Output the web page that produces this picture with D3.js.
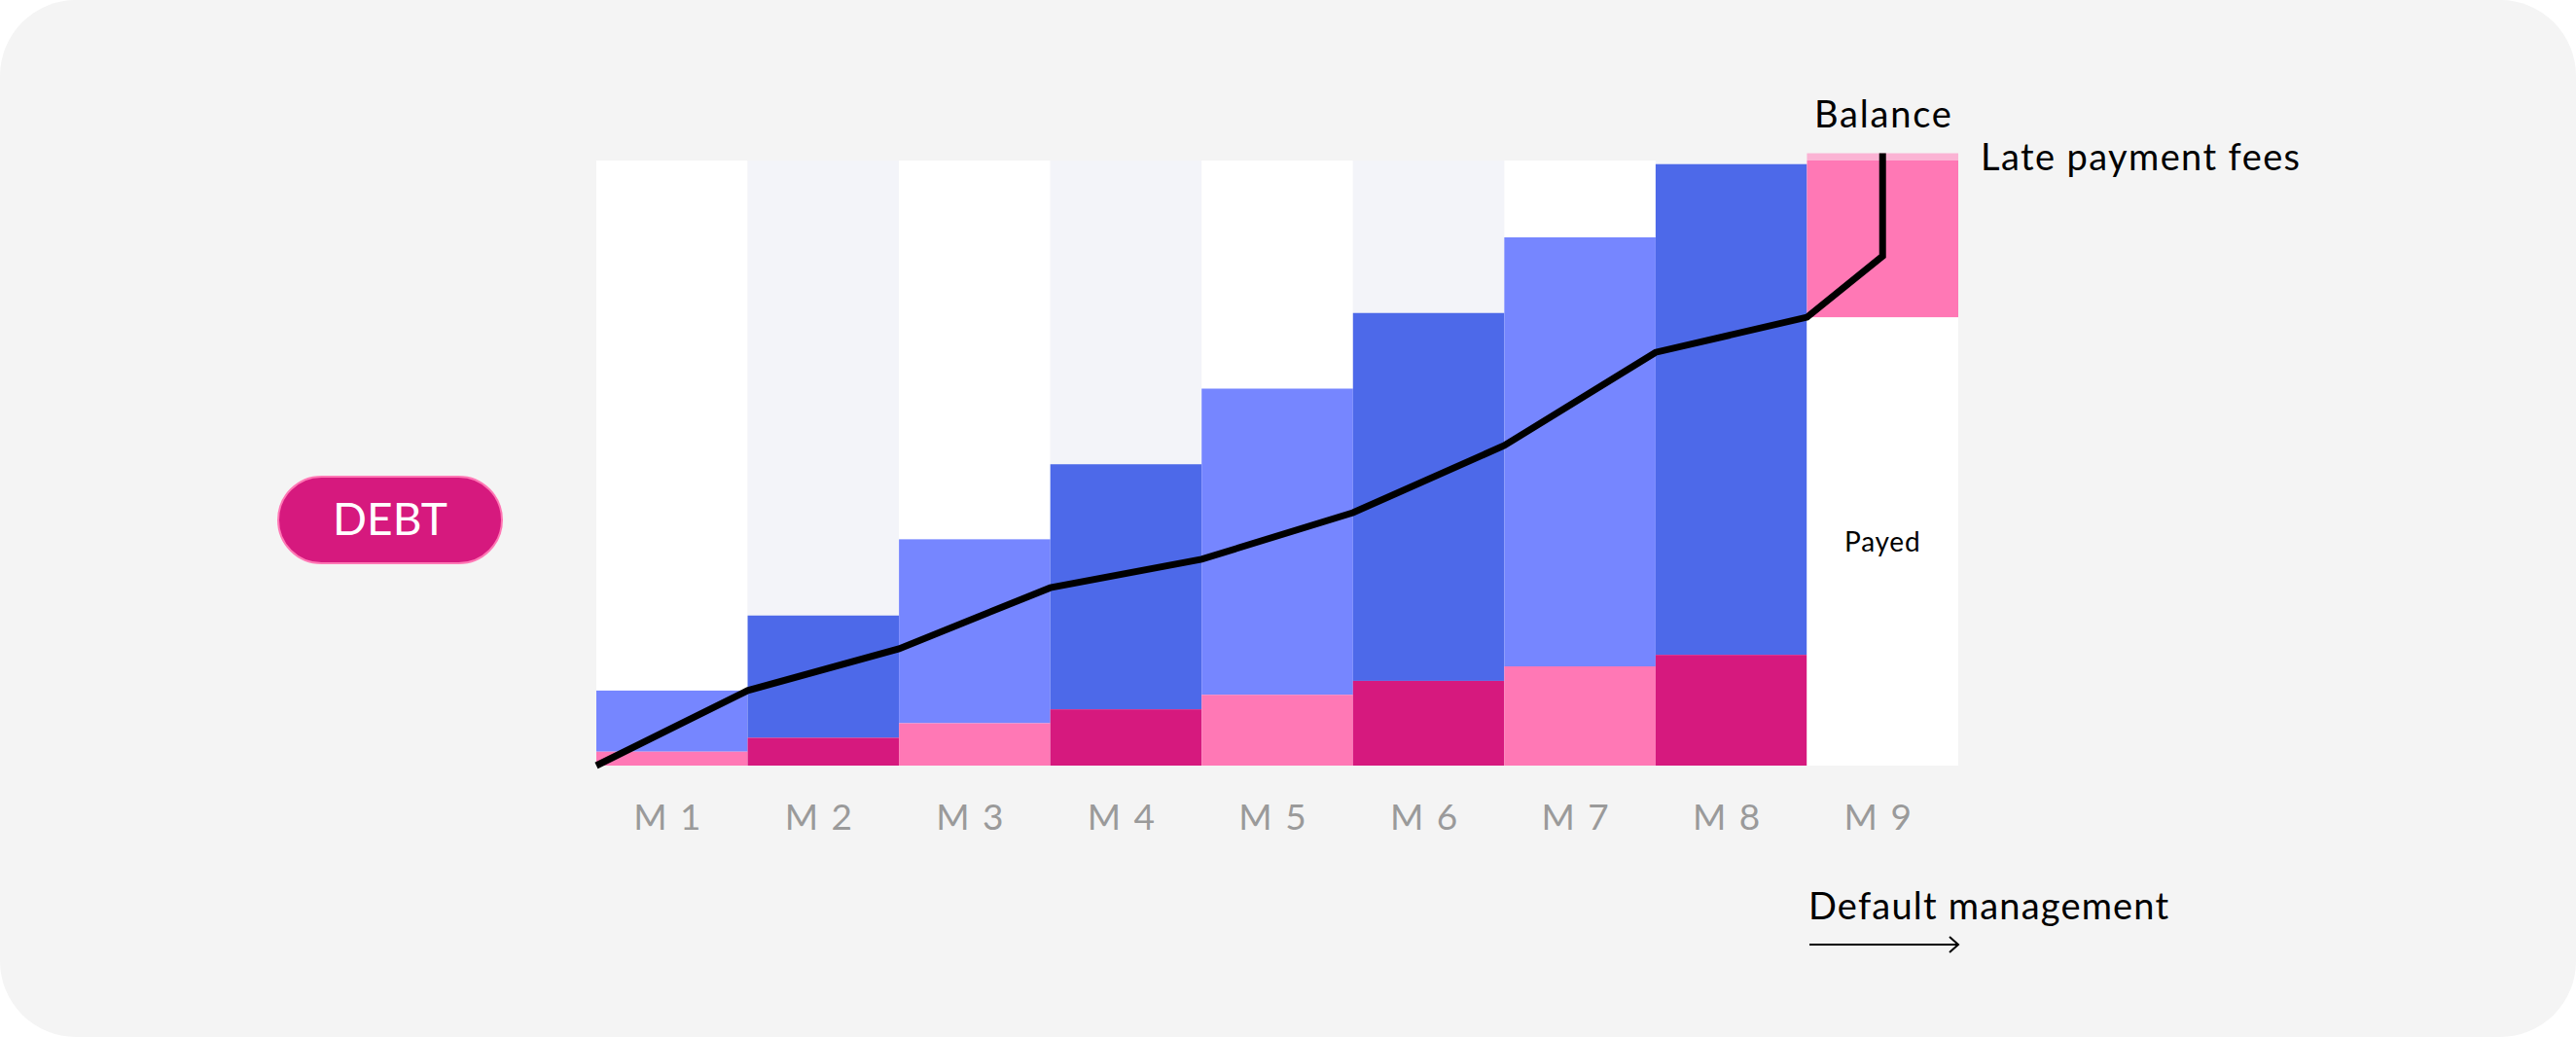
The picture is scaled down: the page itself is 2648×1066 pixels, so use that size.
<!DOCTYPE html>
<html>
<head>
<meta charset="utf-8">
<script src="https://cdn.jsdelivr.net/npm/d3@7"></script>
<style>
  html, body { margin: 0; padding: 0; background: #ffffff; }
  svg text { font-family: Lato, "Noto Sans", sans-serif; }
</style>
</head>
<body>
<div id="chart"></div>
<script>
// months on the x axis
var months = ["M 1", "M 2", "M 3", "M 4", "M 5", "M 6", "M 7", "M 8", "M 9"];

// bottom segment of each month (fees), M1..M8
var fees = [2.3, 4.6, 7.0, 9.3, 11.7, 14.0, 16.4, 18.3];
// top of the blue segment (debt), M1..M8
var debt = [12.4, 24.8, 37.4, 49.8, 62.3, 74.8, 87.3, 99.4];

// balance line, value at each month boundary (start, end of M1..M8)
var balance = [0, 12.4, 19.3, 29.4, 34.1, 41.8, 52.9, 68.3, 74.1];
// balance inside M9 (default management)
var balanceM9 = [84.2, 101.2];

// M9 column
var payed = 74.1;
var lateFees = 100;
var lateFeesTop = 101.2;

var W = 2648, H = 1066;
var margin = { left: 613, right: 635, top: 165, bottom: 279 };

var svg = d3.select("#chart").append("svg")
    .attr("width", W)
    .attr("height", H);

// card
svg.append("rect")
    .attr("x", 0).attr("y", 0)
    .attr("width", W).attr("height", H)
    .attr("rx", 78).attr("ry", 78)
    .attr("fill", "#f4f4f4");

var x = d3.scaleBand().domain(months)
    .range([margin.left, W - margin.right])
    .padding(0);

// month index -> x, for the line that runs on boundaries
var xi = d3.scaleLinear().domain([0, months.length])
    .range([margin.left, W - margin.right]);

var y = d3.scaleLinear().domain([0, 100])
    .range([H - margin.bottom, margin.top]);

// column backgrounds
svg.selectAll(".colbg").data(months).enter().append("rect")
    .attr("class", "colbg")
    .attr("x", function (d) { return x(d); })
    .attr("y", y(100))
    .attr("width", x.bandwidth())
    .attr("height", y(0) - y(100))
    .attr("fill", function (d, i) { return i % 2 ? "#f3f4f9" : "#ffffff"; });

var firstMonths = months.slice(0, 8);

// blue segment
svg.selectAll(".debt").data(firstMonths).enter().append("rect")
    .attr("class", "debt")
    .attr("x", function (d) { return x(d); })
    .attr("y", function (d, i) { return y(debt[i]); })
    .attr("width", x.bandwidth())
    .attr("height", function (d, i) { return y(fees[i]) - y(debt[i]); })
    .attr("fill", function (d, i) { return i % 2 ? "#4d69e9" : "#7686ff"; });

// fees segment
svg.selectAll(".fees").data(firstMonths).enter().append("rect")
    .attr("class", "fees")
    .attr("x", function (d) { return x(d); })
    .attr("y", function (d, i) { return y(fees[i]); })
    .attr("width", x.bandwidth())
    .attr("height", function (d, i) { return y(0) - y(fees[i]); })
    .attr("fill", function (d, i) { return i % 2 ? "#d6197e" : "#ff78b5"; });

// M9: payed + late payment fees
var m9 = months[8];
svg.append("rect")
    .attr("x", x(m9)).attr("y", y(payed))
    .attr("width", x.bandwidth()).attr("height", y(0) - y(payed))
    .attr("fill", "#ffffff");
svg.append("rect")
    .attr("x", x(m9)).attr("y", y(lateFees))
    .attr("width", x.bandwidth()).attr("height", y(payed) - y(lateFees))
    .attr("fill", "#ff78b5");
svg.append("rect")
    .attr("x", x(m9)).attr("y", y(lateFeesTop))
    .attr("width", x.bandwidth()).attr("height", y(lateFees) - y(lateFeesTop))
    .attr("fill", "#fbb3d4");

svg.append("text")
    .attr("x", x(m9) + x.bandwidth() / 2)
    .attr("y", y(payed / 2) + 10)
    .attr("text-anchor", "middle")
    .attr("font-size", 28)
    .attr("letter-spacing", 0.8)
    .attr("fill", "#000")
    .text("Payed");

// balance line
var linePts = balance.map(function (v, i) { return [xi(i), y(v)]; });
balanceM9.forEach(function (v) { linePts.push([xi(8.5), y(v)]); });

svg.append("path")
    .datum(linePts)
    .attr("d", d3.line())
    .attr("fill", "none")
    .attr("stroke", "#000")
    .attr("stroke-width", 7)
    .attr("stroke-linejoin", "miter");

// month labels
svg.selectAll(".mlabel").data(months).enter().append("text")
    .attr("class", "mlabel")
    .attr("x", function (d) { return x(d) + x.bandwidth() / 2 - 4; })
    .attr("y", 853)
    .attr("text-anchor", "middle")
    .attr("font-size", 37)
    .attr("letter-spacing", 2)
    .attr("fill", "#9a9a9a")
    .text(function (d) { return d; });

// annotations
svg.append("text")
    .attr("x", 1865).attr("y", 131)
    .attr("font-size", 38)
    .attr("letter-spacing", 1.8)
    .attr("fill", "#000")
    .text("Balance");

svg.append("text")
    .attr("x", 2036).attr("y", 175)
    .attr("font-size", 38)
    .attr("letter-spacing", 1.4)
    .attr("fill", "#000")
    .text("Late payment fees");

svg.append("text")
    .attr("x", 1859).attr("y", 945)
    .attr("font-size", 38)
    .attr("letter-spacing", 1.2)
    .attr("fill", "#000")
    .text("Default management");

// arrow under "Default management"
svg.append("line")
    .attr("x1", 1860).attr("x2", 2013)
    .attr("y1", 971).attr("y2", 971)
    .attr("stroke", "#000").attr("stroke-width", 2);
svg.append("path")
    .attr("d", "M2004,963 L2013,971 L2004,979")
    .attr("fill", "none")
    .attr("stroke", "#000").attr("stroke-width", 2);

// DEBT pill
svg.append("rect")
    .attr("x", 286).attr("y", 490)
    .attr("width", 230).attr("height", 89)
    .attr("rx", 44.5).attr("ry", 44.5)
    .attr("fill", "#d6197e")
    .attr("stroke", "#ff78b5")
    .attr("stroke-width", 2);
svg.append("text")
    .attr("x", 401).attr("y", 550)
    .attr("text-anchor", "middle")
    .attr("font-size", 46)
    .attr("fill", "#ffffff")
    .text("DEBT");
</script>
</body>
</html>
